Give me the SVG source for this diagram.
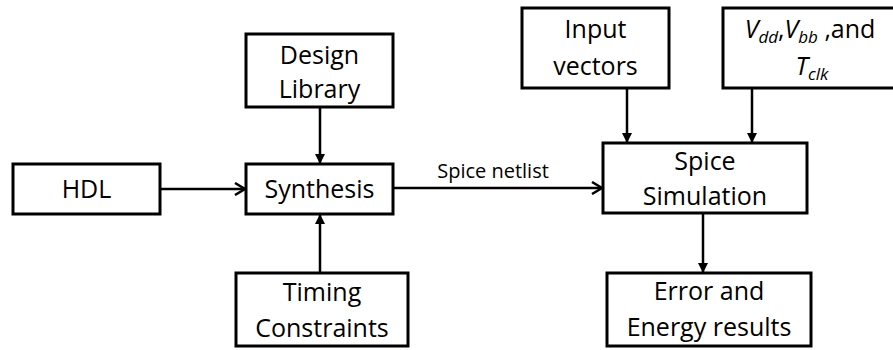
<svg xmlns="http://www.w3.org/2000/svg" width="893" height="350" viewBox="0 0 893 350">
<defs>
<style>
.box{fill:#fff;stroke:#000;stroke-width:3}
.lbl{font-family:"Open Sans","Liberation Sans",sans-serif;font-size:25px;text-anchor:middle;fill:#000}
.small{font-family:"Open Sans","Liberation Sans",sans-serif;font-size:20px;text-anchor:middle;fill:#000}
.conn{stroke:#000;stroke-width:2.5;fill:none}
.it{font-style:italic}
.sub{font-style:italic;font-size:17px}
</style>
<marker id="tri" markerWidth="10" markerHeight="10" refX="9" refY="5" orient="auto" markerUnits="userSpaceOnUse" viewBox="0 0 10 10">
<path d="M0,0 L10,5 L0,10 Z" fill="#000"/>
</marker>
<marker id="chev" markerWidth="14" markerHeight="14" refX="12" refY="7" orient="auto" markerUnits="userSpaceOnUse" viewBox="0 0 14 14">
<path d="M2,1 L12,7 L2,13" fill="none" stroke="#000" stroke-width="2.5"/>
</marker>
</defs>
<g id="connectors">
<line class="conn" x1="160" y1="189" x2="245" y2="189" marker-end="url(#chev)"/>
<line class="conn" x1="393" y1="188" x2="602" y2="188" marker-end="url(#chev)"/>
<text class="small" x="493" y="178">Spice netlist</text>
<line class="conn" x1="320" y1="107" x2="320" y2="163" marker-end="url(#tri)"/>
<line class="conn" x1="320" y1="273" x2="320" y2="215" marker-end="url(#tri)"/>
<line class="conn" x1="627" y1="88" x2="627" y2="142" marker-end="url(#tri)"/>
<line class="conn" x1="752" y1="88" x2="752" y2="142" marker-end="url(#tri)"/>
<line class="conn" x1="703" y1="213" x2="703" y2="272" marker-end="url(#tri)"/>
</g>
<g id="hdl">
<rect class="box" x="13" y="164" width="147" height="50"/>
<text class="lbl" x="86.5" y="198">HDL</text>
</g>
<g id="synthesis">
<rect class="box" x="246" y="164" width="147" height="50"/>
<text class="lbl" x="319.5" y="198">Synthesis</text>
</g>
<g id="design-library">
<rect class="box" x="246" y="34" width="147" height="73"/>
<text class="lbl" x="319.5" y="64">Design</text>
<text class="lbl" x="319.5" y="98">Library</text>
</g>
<g id="timing-constraints">
<rect class="box" x="236" y="273" width="172" height="73"/>
<text class="lbl" x="322" y="301">Timing</text>
<text class="lbl" x="322" y="337">Constraints</text>
</g>
<g id="input-vectors">
<rect class="box" x="522" y="8" width="147" height="80"/>
<text class="lbl" x="595.5" y="38">Input</text>
<text class="lbl" x="595.5" y="75">vectors</text>
</g>
<g id="vdd-vbb-tclk">
<rect class="box" x="723" y="8" width="175" height="80"/>
<text class="lbl" x="810" y="38"><tspan class="it">V</tspan><tspan class="sub" dy="5">dd</tspan><tspan dy="-5">,</tspan><tspan class="it">V</tspan><tspan class="sub" dy="5">bb</tspan><tspan dy="-5"> ,and</tspan></text>
<text class="lbl" x="812" y="75"><tspan class="it">T</tspan><tspan class="sub" dy="5">clk</tspan></text>
</g>
<g id="spice-simulation">
<rect class="box" x="603" y="143" width="204" height="70"/>
<text class="lbl" x="705" y="170">Spice</text>
<text class="lbl" x="705" y="205">Simulation</text>
</g>
<g id="error-energy">
<rect class="box" x="607" y="273" width="204" height="73"/>
<text class="lbl" x="709" y="300">Error and</text>
<text class="lbl" x="709" y="336">Energy results</text>
</g>
</svg>
